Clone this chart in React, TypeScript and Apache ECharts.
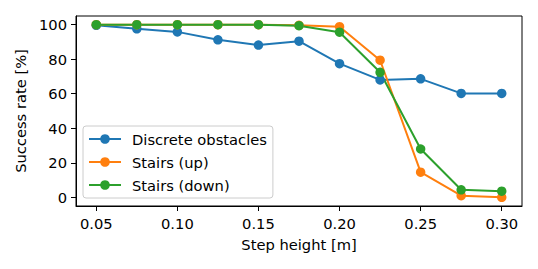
import React, { useEffect, useRef } from "react";
import * as echarts from "echarts";

const stepHeights = [0.05, 0.075, 0.1, 0.125, 0.15, 0.175, 0.2, 0.225, 0.25, 0.275, 0.3];
const discreteObstacles = [99.6, 97.6, 95.8, 91.2, 88.2, 90.4, 77.4, 68.0, 68.6, 60.2, 60.2];
const stairsUp = [100, 100, 100, 100, 100, 99.6, 98.8, 79.4, 14.6, 1.0, 0.0];
const stairsDown = [100, 100, 100, 100, 100, 99.4, 95.6, 72.4, 28.0, 4.4, 3.6];
const xTicks = [0.05, 0.1, 0.15, 0.2, 0.25, 0.3];
const yTicks = [0, 20, 40, 60, 80, 100];

const FONT = "DejaVu Sans";
const FS = 14.7;

export default function App() {
  const ref = useRef<HTMLDivElement>(null);
  useEffect(() => {
    if (!ref.current) return;
    const chart = echarts.init(ref.current, null, { renderer: "svg" });
    const mk = (name: string, vals: number[], color: string) => ({
      name,
      type: "line",
      data: stepHeights.map((x, i) => [x, vals[i]]),
      symbol: "circle",
      symbolSize: 9.5,
      lineStyle: { color, width: 2 },
      itemStyle: { color },
      emphasis: { disabled: true },
    });
    chart.setOption({
      animation: false,
      grid: { left: 76, right: 16, top: 16, bottom: 63, show: true, borderColor: "#000", borderWidth: 1, backgroundColor: "transparent" },
      legend: {
        left: 83,
        top: 126,
        orient: "vertical",
        itemWidth: 32,
        itemHeight: 12,
        itemGap: 7,
        padding: [5, 6, 5, 5],
        backgroundColor: "rgba(255,255,255,0.8)",
        borderColor: "#cccccc",
        borderWidth: 1,
        borderRadius: 3,
        textStyle: { fontFamily: FONT, fontSize: FS, color: "#000", lineHeight: 16, padding: [0, 0, 0, 6] },
        data: ["Discrete obstacles", "Stairs (up)", "Stairs (down)"],
      },
      xAxis: {
        type: "value",
        min: 0.0375,
        max: 0.3125,
        name: "Step height [m]",
        nameLocation: "middle",
        nameGap: 31,
        nameTextStyle: { fontFamily: FONT, fontSize: FS, color: "#000" },
        axisLine: { show: true, onZero: false, lineStyle: { color: "#000", width: 1 } },
        axisTick: { show: true, length: 5, lineStyle: { color: "#000" }, customValues: xTicks },
        axisLabel: { fontFamily: FONT, fontSize: FS, color: "#000", margin: 10, customValues: xTicks, formatter: (v: number) => v.toFixed(2) },
        splitLine: { show: false },
      },
      yAxis: {
        type: "value",
        min: -5,
        max: 105,
        name: "Success rate [%]",
        nameLocation: "middle",
        nameGap: 45,
        nameTextStyle: { fontFamily: FONT, fontSize: FS, color: "#000" },
        axisLine: { show: true, onZero: false, lineStyle: { color: "#000", width: 1 } },
        axisTick: { show: true, length: 5, lineStyle: { color: "#000" }, customValues: yTicks },
        axisLabel: { fontFamily: FONT, fontSize: FS, color: "#000", margin: 9, customValues: yTicks },
        splitLine: { show: false },
      },
      series: [
        mk("Discrete obstacles", discreteObstacles, "#1f77b4"),
        mk("Stairs (up)", stairsUp, "#ff7f0e"),
        mk("Stairs (down)", stairsDown, "#2ca02c"),
      ],
    });
    return () => chart.dispose();
  }, []);
  return <div ref={ref} style={{ position: "absolute", left: 0, top: 0, width: 538, height: 269 }} />;
}
